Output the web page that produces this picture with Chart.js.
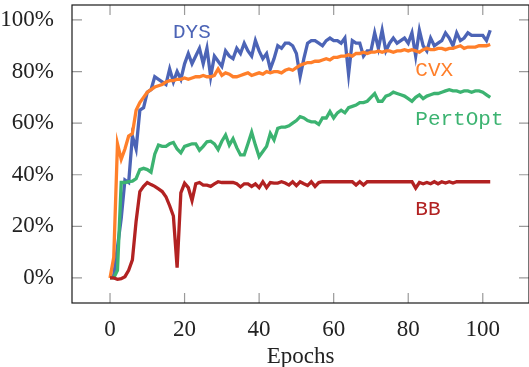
<!DOCTYPE html>
<html>
<head>
<meta charset="utf-8">
<script src="https://cdn.jsdelivr.net/npm/chart.js@4"></script>
<style>
  html, body { margin: 0; padding: 0; background: #fff; }
  canvas { display: block; }
</style>
</head>
<body>
<canvas id="accChart" width="529" height="367"></canvas>
<script>
const epochs = Array.from({ length: 103 }, (_, i) => i)

const dys = [
  0, 1, 12, 23, 38, 37, 55, 50, 65, 66,
  72, 73, 78, 77, 76, 75, 81, 76, 80, 77,
  83, 87, 83, 86, 89, 83, 89, 78, 86, 84,
  82, 88, 86, 85, 89, 87, 91, 88, 86, 92,
  88, 85, 87, 81, 85, 90, 89, 91, 91, 90,
  87, 78, 85, 91, 92, 92, 91, 90, 92, 93,
  92, 92, 91, 93, 79, 92, 91, 91, 86, 88,
  88, 95, 89, 96, 88, 91, 93, 91, 92, 93,
  91, 95, 86, 96, 90, 88, 93, 90, 91, 92,
  95, 93, 90, 95, 92, 93, 95, 94, 94, 94,
  94, 92, 96
]
const cvx = [
  0, 8, 52, 46, 50, 55, 56, 65, 68, 70,
  72, 73, 74, 74.5, 75, 76, 76.5, 76.5, 77, 77,
  77.5, 77, 77.5, 78, 78, 78.5, 78, 78, 78.5, 81,
  78.5, 79.5, 79, 78, 78, 78.5, 79, 79.5, 78.5, 79,
  79.5, 79, 80, 79.5, 80, 80, 79.5, 80.5, 81, 80.5,
  81.5, 82.5, 83, 83.5, 83.5, 84, 84, 84.5, 85, 84.5,
  85.5, 85.5, 86, 86, 86.5, 86, 87, 87, 87.5, 87,
  87.5, 87.5, 88, 87.5, 88, 88, 87.5, 88, 88, 88.5,
  88, 88.5, 88, 87.5, 88.5, 89, 88.5, 88.5, 89, 89,
  88.5, 89, 89, 89.5, 90, 89, 89.5, 89.5, 89.5, 90,
  90, 90, 90.5
]
const pertOpt = [
  0, 0, 3, 37, 37, 37.3, 37.5, 38.5, 42, 42.5,
  42, 41, 48, 51.5, 51, 51, 52, 52.5, 50, 48.5,
  51, 51.5, 52, 52, 49.5, 51, 52.8, 53, 52, 49.8,
  53, 55.4, 51.5, 54, 50.5, 47.7, 47.7, 52, 56.5, 51.5,
  47, 49, 51, 56, 53.5, 58, 58.5, 58.5, 59, 60,
  61, 62.5, 62, 61, 60.5, 60.5, 59.5, 62, 62, 64.5,
  62, 64, 65, 64, 66, 66.5, 67, 68, 68, 68.5,
  70, 71.5, 68.5, 68.5, 70.5, 71, 72, 71.5, 71, 70.5,
  69.5, 68.5, 70, 71, 69.5, 70.5, 71, 71.5, 71.5, 72,
  72.5, 73, 72.5, 72.5, 72, 72.5, 72.5, 72, 72.5, 72.5,
  72, 71, 70
]
const bb = [
  0, 0, -0.5, -0.3, 0.5, 3, 7, 22, 33.5, 35.5,
  37, 36.2, 35.5, 34.5, 33.5, 31.5, 28, 24, 4, 33,
  36.7, 35, 30, 36.5, 37, 36, 36, 35.5, 36.5, 37.3,
  37, 37, 37, 37, 36.5, 35.3, 36.5, 36.5, 35.5, 36.5,
  35, 37.3, 35, 37, 36.8, 36.8, 37.3, 36.8, 36, 37.3,
  35.8, 37.3, 36.5, 35.8, 37.3, 35.5, 37, 37.3, 37.3, 37.3,
  37.3, 37.3, 37.3, 37.3, 37.3, 37.3, 36, 37.3, 36, 37.3,
  37.3, 37.3, 37.3, 37.3, 37.3, 37.3, 37.3, 37.3, 37.3, 37.3,
  37.3, 37.3, 34.8, 37, 36.5, 37, 36.5, 37.3, 36.5, 37.3,
  36.8, 37.3, 36.8, 37.3, 37.3, 37.3, 37.3, 37.3, 37.3, 37.3,
  37.3, 37.3, 37.3
]

const xTicks = [0, 20, 40, 60, 80, 100]
const yTicks = [0, 20, 40, 60, 80, 100]
const seriesNames = ["DYS", "CVX", "PertOpt", "BB"]
const seriesData = [dys, cvx, pertOpt, bb]
const colors = ["#4c64b6", "#ff7f2a", "#3cb371", "#b22222"]

// inline names: left edge and vertical middle, in data units
const nameSpots = [[16.9, 95.2], [81.9, 80.4], [81.9, 61.5], [81.9, 26.7]]

const serif = "'Liberation Serif', 'DejaVu Serif', serif"

const framePlugin = {
  id: "frame",
  beforeDatasetsDraw(chart) {
    const { ctx, chartArea: a, scales: { x, y } } = chart
    ctx.save()
    ctx.strokeStyle = "#9a9a9a"
    ctx.lineWidth = 1.2
    ctx.beginPath()
    xTicks.forEach((v) => {
      const px = x.getPixelForValue(v)
      ctx.moveTo(px, a.bottom); ctx.lineTo(px, a.bottom - 10)
      ctx.moveTo(px, a.top); ctx.lineTo(px, a.top + 10)
    })
    yTicks.forEach((v) => {
      const py = y.getPixelForValue(v)
      ctx.moveTo(a.left, py); ctx.lineTo(a.left + 10, py)
      ctx.moveTo(a.right, py); ctx.lineTo(a.right - 10, py)
    })
    ctx.stroke()
    ctx.restore()
  },
  afterDatasetsDraw(chart) {
    const { ctx, chartArea: a, scales: { x, y } } = chart
    ctx.save()
    ctx.strokeStyle = "#1a1a1a"
    ctx.lineWidth = 1.2
    ctx.strokeRect(a.left, a.top, a.right - a.left, a.bottom - a.top)
    ctx.font = "21px 'Liberation Mono', monospace"
    ctx.textAlign = "left"
    ctx.textBaseline = "middle"
    seriesNames.forEach((name, i) => {
      ctx.fillStyle = colors[i]
      ctx.fillText(name, x.getPixelForValue(nameSpots[i][0]), y.getPixelForValue(nameSpots[i][1]))
    })
    ctx.restore()
  },
}

new Chart(document.getElementById("accChart"), {
  type: "line",
  data: {
    datasets: seriesNames.map((name, i) => ({
      label: name,
      data: epochs.map((e, j) => ({ x: e, y: seriesData[i][j] })),
      borderColor: colors[i],
      borderWidth: 3.3,
      pointRadius: 0,
      tension: 0,
      borderJoinStyle: "miter",
      order: 4 - i,
    })),
  },
  options: {
    responsive: false,
    animation: false,
    devicePixelRatio: 1,
    layout: { padding: { top: 5, right: 0, left: 0, bottom: 0 } },
    plugins: { legend: { display: false }, tooltip: { enabled: false } },
    scales: {
      x: {
        type: "linear",
        min: -10.2,
        max: 112.4,
        grid: { display: false },
        border: { display: false },
        afterBuildTicks: (s) => { s.ticks = xTicks.map((v) => ({ value: v })) },
        afterFit: (s) => { s.height = 64; s.paddingLeft = 0; s.paddingRight = 0 },
        ticks: { color: "#222", padding: 5, maxRotation: 0, font: { family: serif, size: 23 } },
        title: {
          display: true,
          text: "Epochs",
          color: "#222",
          padding: { top: 0, bottom: 0 },
          font: { family: serif, size: 23, lineHeight: 0.9 },
        },
      },
      y: {
        min: -9.7,
        max: 105.8,
        grid: { display: false },
        border: { display: false },
        afterBuildTicks: (s) => { s.ticks = yTicks.map((v) => ({ value: v })) },
        afterFit: (s) => { s.width = 72; s.paddingTop = 0; s.paddingBottom = 0 },
        ticks: { color: "#222", padding: 10, callback: (v) => v + "%", font: { family: serif, size: 23 } },
      },
    },
  },
  plugins: [framePlugin],
})
</script>
</body>
</html>
